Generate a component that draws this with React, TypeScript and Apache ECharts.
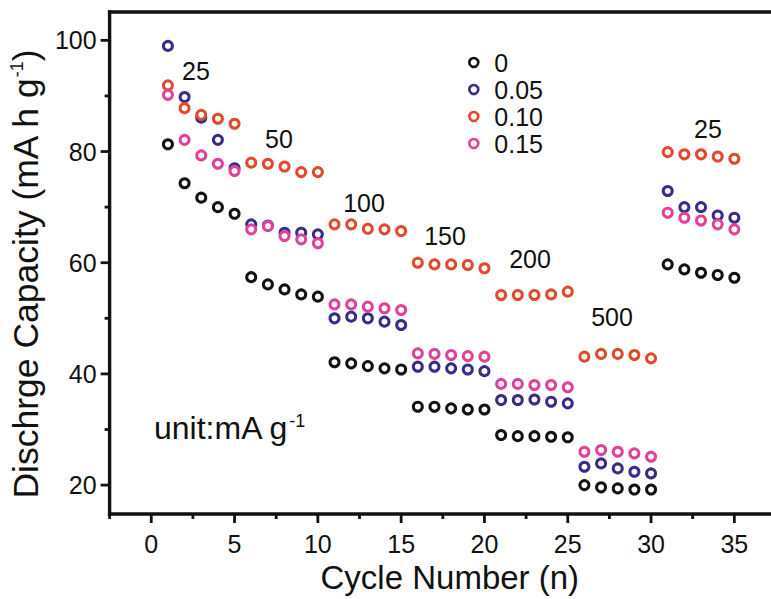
import React, { useEffect, useRef } from "react";
import * as echarts from "echarts";

const cycles = [
  1, 2, 3, 4, 5, 6, 7, 8, 9, 10, 11, 12, 13, 14, 15, 16, 17, 18,
  19, 20, 21, 22, 23, 24, 25, 26, 27, 28, 29, 30, 31, 32, 33, 34, 35,
];

const seriesNames = ["0", "0.05", "0.10", "0.15"];
const seriesColors = ["#111111", "#3b2a8c", "#df4a2a", "#e0429a"];

const cap0 = [
  81.3, 74.3, 71.7, 70.0, 68.8, 57.4, 56.1, 55.2, 54.3, 53.9, 42.1, 41.9,
  41.4, 41.0, 40.8, 34.1, 34.1, 33.8, 33.6, 33.6, 29.0, 28.8, 28.8, 28.7,
  28.6, 20.0, 19.6, 19.4, 19.2, 19.2, 59.7, 58.8, 58.2, 57.8, 57.3,
];
const cap005 = [
  99.0, 89.8, 86.1, 82.1, 77.0, 66.9, 66.7, 65.4, 65.4, 65.1, 50.0, 50.3,
  50.0, 49.4, 48.8, 41.3, 41.3, 41.0, 40.8, 40.5, 35.3, 35.3, 35.4, 35.0,
  34.7, 23.3, 23.9, 23.0, 22.4, 22.1, 72.9, 70.0, 70.0, 68.5, 68.1,
];
const cap010 = [
  91.9, 87.8, 86.6, 85.9, 85.0, 78.0, 77.8, 77.3, 76.3, 76.3, 66.9, 66.9,
  66.1, 66.0, 65.7, 60.0, 59.7, 59.7, 59.6, 59.0, 54.2, 54.2, 54.2, 54.3,
  54.8, 43.1, 43.6, 43.6, 43.4, 42.8, 79.9, 79.5, 79.5, 79.1, 78.7,
];
const cap015 = [
  90.2, 82.1, 79.3, 77.8, 76.5, 66.0, 66.6, 64.8, 64.2, 63.5, 52.5, 52.5,
  52.1, 51.8, 51.5, 43.7, 43.6, 43.4, 43.2, 43.1, 38.2, 38.2, 38.0, 38.0,
  37.6, 26.0, 26.3, 26.0, 25.7, 25.1, 69.0, 68.1, 67.6, 66.9, 66.0,
];
const allCaps = [cap0, cap005, cap010, cap015];

const xMajorTicks = [0, 5, 10, 15, 20, 25, 30, 35];
const xMinorTicks = [-2.5, 2.5, 7.5, 12.5, 17.5, 22.5, 27.5, 32.5];
const yMajorTicks = [20, 40, 60, 80, 100];
const yMinorTicks = [30, 50, 70, 90];

const rateLabels = ["25", "50", "100", "150", "200", "500", "25"];
const rateLabelPos = [
  [196, 71],
  [279, 139],
  [364, 203],
  [445, 236],
  [530, 259],
  [612, 317],
  [708, 129],
];

const FONT = "'Liberation Sans', Arial, Helvetica, sans-serif";
const INK = "#111111";

export default function App() {
  const ref = useRef<HTMLDivElement>(null);

  useEffect(() => {
    if (!ref.current) return;
    const chart = echarts.init(ref.current, null, { renderer: "svg" });

    const xMin = -2.5;
    const xMax = 37.2;
    const yMin = 14.8;
    const yMax = 105.1;

    const FRAME_W = 3.4;
    const TICK_W = 2.8;
    const MAJOR_LEN = 9;
    const MINOR_LEN = 5;

    const option = {
      animation: false,
      backgroundColor: "#ffffff",
      textStyle: { fontFamily: FONT },
      grid: {
        left: 105,
        top: 12,
        right: -3,
        bottom: 85,
        containLabel: false,
      },
      legend: {
        orient: "vertical",
        left: 463,
        top: 45,
        itemWidth: 9,
        itemHeight: 9,
        itemGap: 2,
        selectedMode: false,
        data: seriesNames,
        itemStyle: { borderWidth: 2.6 },
        textStyle: {
          fontFamily: FONT,
          fontSize: 25,
          lineHeight: 25,
          color: INK,
          padding: [0, 0, 0, 11],
        },
      },
      xAxis: {
        type: "value",
        min: xMin,
        max: xMax,
        position: "bottom",
        axisLine: { show: false },
        axisTick: { show: false },
        axisLabel: {
          show: true,
          customValues: xMajorTicks,
          fontSize: 25,
          margin: 17,
          color: INK,
          fontFamily: FONT,
        },
        splitLine: { show: false },
        name: "Cycle Number (n)",
        nameLocation: "middle",
        nameGap: 47,
        nameTextStyle: {
          fontSize: 33,
          color: INK,
          fontFamily: FONT,
          padding: [0, 0, 0, 19],
        },
      },
      yAxis: {
        type: "value",
        min: yMin,
        max: yMax,
        position: "left",
        axisLine: { show: false },
        axisTick: { show: false },
        axisLabel: {
          show: true,
          customValues: yMajorTicks,
          fontSize: 25,
          margin: 13,
          color: INK,
          fontFamily: FONT,
        },
        splitLine: { show: false },
        name: "{a|Dischrge Capacity (mA h g}{s|-1}{a|)}",
        nameLocation: "middle",
        nameRotate: 90,
        nameGap: 58,
        nameTextStyle: {
          color: INK,
          fontFamily: FONT,
          padding: [0, 23, 0, 0],
          rich: {
            a: { fontSize: 35.5, color: INK, fontFamily: FONT, lineHeight: 36 },
            s: {
              fontSize: 18,
              color: INK,
              fontFamily: FONT,
              verticalAlign: "top",
              lineHeight: 18,
            },
          },
        },
      },
      series: seriesNames.map((name, si) => ({
        name,
        type: "scatter",
        symbol: "circle",
        symbolSize: 9,
        z: 2,
        itemStyle: {
          color: "#ffffff",
          borderColor: seriesColors[si],
          borderWidth: 3,
          opacity: 1,
        },
        emphasis: { disabled: true },
        data: cycles.map((c, i) => [c, allCaps[si][i]]),
      })),
    };

    chart.setOption(option as any);

    // Frame and ticks: positions come from the chart's own axis scales.
    const toPx = (x: number, y: number) =>
      chart.convertToPixel({ gridIndex: 0 }, [x, y]) as number[];
    const bl = toPx(xMin, yMin);
    const tr = toPx(xMax, yMax);
    const left = bl[0];
    const bottom = bl[1];
    const top = tr[1];
    const right = Math.min(tr[0], 771);

    const rects: any[] = [];
    const rect = (x: number, y: number, w: number, h: number) =>
      rects.push({
        type: "rect",
        silent: true,
        z: 10,
        shape: { x, y, width: w, height: h },
        style: { fill: INK },
      });
    rect(left - FRAME_W / 2, top - FRAME_W / 2, FRAME_W, bottom - top + FRAME_W);
    rect(left - FRAME_W / 2, bottom - FRAME_W / 2, right - left + FRAME_W, FRAME_W);
    rect(left - FRAME_W / 2, top - FRAME_W / 2, right - left + FRAME_W, FRAME_W);
    xMajorTicks.forEach((v) => {
      const px = toPx(v, yMin)[0];
      rect(px - TICK_W / 2, bottom, TICK_W, MAJOR_LEN);
    });
    xMinorTicks.forEach((v) => {
      const px = toPx(v, yMin)[0];
      rect(px - TICK_W / 2, bottom, TICK_W, MINOR_LEN);
    });
    yMajorTicks.forEach((v) => {
      const py = toPx(xMin, v)[1];
      rect(left - MAJOR_LEN, py - TICK_W / 2, MAJOR_LEN, TICK_W);
    });
    yMinorTicks.forEach((v) => {
      const py = toPx(xMin, v)[1];
      rect(left - MINOR_LEN, py - TICK_W / 2, MINOR_LEN, TICK_W);
    });

    const texts: any[] = [
      ...rateLabels.map((t, i) => ({
        type: "text",
        x: rateLabelPos[i][0],
        y: rateLabelPos[i][1],
        silent: true,
        style: {
          text: t,
          fontSize: 25,
          fontFamily: FONT,
          fill: INK,
          align: "center",
          verticalAlign: "middle",
        },
      })),
      {
        type: "text",
        x: 154,
        y: 412,
        silent: true,
        style: {
          text: "{a|unit:mA g}{s|-1}",
          fontFamily: FONT,
          fill: INK,
          align: "left",
          verticalAlign: "top",
          rich: {
            a: { fontSize: 32, fontFamily: FONT, fill: INK, lineHeight: 32 },
            s: {
              fontSize: 18,
              fontFamily: FONT,
              fill: INK,
              verticalAlign: "top",
              lineHeight: 18,
            },
          },
        },
      },
    ];

    chart.setOption({ graphic: [...rects, ...texts] } as any);

    return () => {
      chart.dispose();
    };
  }, []);

  return (
    <div
      ref={ref}
      style={{
        position: "fixed",
        left: 0,
        top: 0,
        width: 771,
        height: 599,
        background: "#ffffff",
      }}
    />
  );
}
